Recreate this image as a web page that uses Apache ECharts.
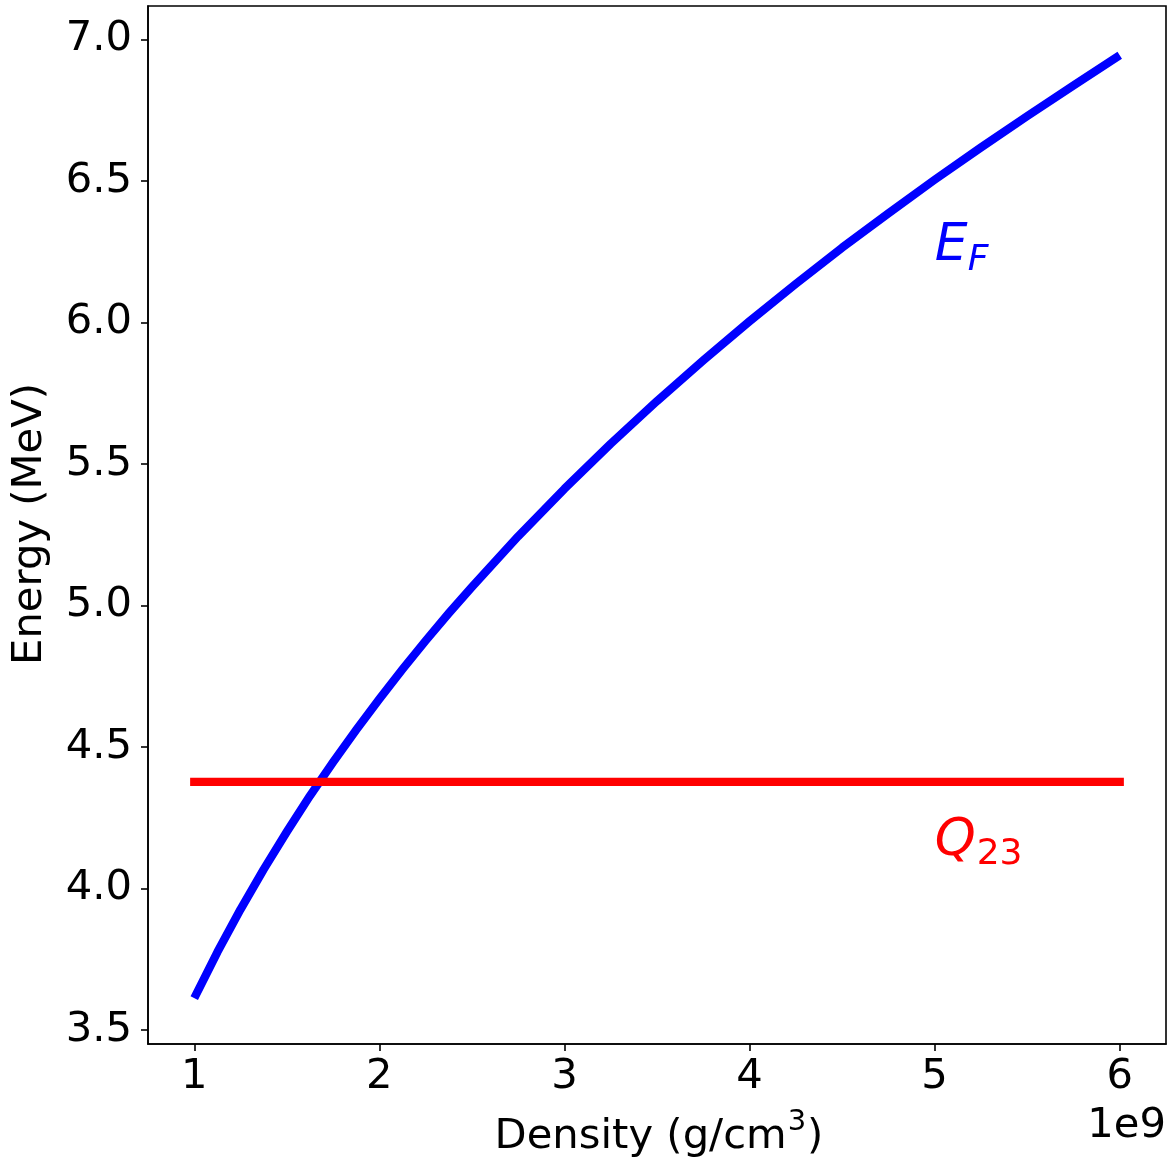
<!DOCTYPE html>
<html>
<head>
<meta charset="utf-8">
<script src="https://cdn.jsdelivr.net/npm/echarts@6/dist/echarts.min.js"></script>
<style>
html,body{margin:0;padding:0;background:#fff;}
#chart{width:1172px;height:1160px;}
</style>
</head>
<body>
<div id="chart"></div>
<script>
// Data
const density = [1.0e9, 1.125e9, 1.25e9, 1.375e9, 1.5e9, 1.625e9, 1.75e9, 1.875e9, 2.0e9, 2.125e9, 2.25e9,
                 2.375e9, 2.5e9, 2.75e9, 3.0e9, 3.25e9, 3.5e9, 3.75e9, 4.0e9, 4.25e9, 4.5e9, 4.75e9,
                 5.0e9, 5.25e9, 5.5e9, 5.75e9, 6.0e9];
const fermiEnergy = [3.612, 3.775, 3.926, 4.067, 4.200, 4.327, 4.446, 4.560, 4.669, 4.774, 4.875,
                     4.972, 5.065, 5.244, 5.412, 5.571, 5.722, 5.866, 6.004, 6.136, 6.264, 6.385,
                     6.504, 6.618, 6.729, 6.837, 6.944];
const qDensity = [1.0e9, 6.0e9];
const qEnergy = [4.376, 4.376];
const xTicks = [1e9, 2e9, 3e9, 4e9, 5e9, 6e9];
const yTicks = [3.5, 4.0, 4.5, 5.0, 5.5, 6.0, 6.5, 7.0];
const labelEF = {x: 5.0e9, y: 6.2};
const labelQ = {x: 5.0e9, y: 4.1};

const FONT = 'DejaVu Sans';
const chart = echarts.init(document.getElementById('chart'), null, {renderer: 'canvas'});

const option = {
  animation: false,
  backgroundColor: '#fff',
  grid: {left: 148, right: 6, top: 6, bottom: 116, show: true, borderColor: '#000', borderWidth: 1.6, backgroundColor: 'transparent'},
  xAxis: {
    type: 'value', min: 0.75e9, max: 6.25e9,
    splitLine: {show: false},
    axisLine: {show: true, onZero: false, lineStyle: {color: '#000', width: 1.6}},
    axisTick: {show: true, length: 7, lineStyle: {color: '#000', width: 1.6}, customValues: xTicks},
    axisLabel: {show: true, margin: 12, color: '#000', fontFamily: FONT, fontSize: 41.7,
      customValues: xTicks, formatter: v => String(Math.round(v / 1e9))}
  },
  yAxis: {
    type: 'value', min: 3.45, max: 7.118,
    splitLine: {show: false},
    axisLine: {show: true, onZero: false, lineStyle: {color: '#000', width: 1.6}},
    axisTick: {show: true, length: 7, lineStyle: {color: '#000', width: 1.6}, customValues: yTicks},
    axisLabel: {show: true, margin: 16, color: '#000', fontFamily: FONT, fontSize: 41.7,
      customValues: yTicks, formatter: v => v.toFixed(1)}
  },
  series: [
    {
      type: 'line', data: density.map((d, i) => [d, fermiEnergy[i]]),
      smooth: false, showSymbol: false, clip: false,
      lineStyle: {color: '#0000ff', width: 8.3, cap: 'butt', join: 'round'}
    },
    {
      type: 'line', data: qDensity.map((d, i) => [d, qEnergy[i]]),
      showSymbol: false, clip: false,
      lineStyle: {color: '#ff0000', width: 8.3, cap: 'square'}
    }
  ]
};
chart.setOption(option);

const pEF = chart.convertToPixel({gridIndex: 0}, [labelEF.x, labelEF.y]);
const pQ = chart.convertToPixel({gridIndex: 0}, [labelQ.x, labelQ.y]);

chart.setOption({
  graphic: [
    {type: 'text', x: 30, y: 524, rotation: Math.PI / 2, style: {text: 'Energy (MeV)', font: '41.7px "DejaVu Sans"', fill: '#000', align: 'center', verticalAlign: 'middle'}},
    {type: 'text', x: 659, y: 1133, style: {
      text: '{a|Density (g/cm}{s|3}{a|)}', align: 'center', verticalAlign: 'middle',
      rich: {
        a: {fontFamily: FONT, fontSize: 41.7, fill: '#000', color: '#000', lineHeight: 50, verticalAlign: 'bottom'},
        s: {fontFamily: FONT, fontSize: 29, fill: '#000', color: '#000', lineHeight: 50, verticalAlign: 'top', padding: [0, 1, 0, 1]}
      }}},
    {type: 'text', x: 1166, y: 1126, style: {text: '1e9', font: '41.7px "DejaVu Sans"', fill: '#000', align: 'right', verticalAlign: 'middle'}},
    {type: 'text', x: pEF[0], y: pEF[1] - 19, style: {text: 'E', font: 'italic 52px "DejaVu Sans"', fill: '#0000ff', align: 'left', verticalAlign: 'middle'}},
    {type: 'text', x: pEF[0] + 33, y: pEF[1] - 5, style: {text: 'F', font: 'italic 36px "DejaVu Sans"', fill: '#0000ff', align: 'left', verticalAlign: 'middle'}},
    {type: 'text', x: pQ[0], y: pQ[1] - 19, style: {text: 'Q', font: 'italic 52px "DejaVu Sans"', fill: '#ff0000', align: 'left', verticalAlign: 'middle'}},
    {type: 'text', x: pQ[0] + 42, y: pQ[1] - 5, style: {text: '23', font: '36px "DejaVu Sans"', fill: '#ff0000', align: 'left', verticalAlign: 'middle'}}
  ]
});
</script>
</body>
</html>
